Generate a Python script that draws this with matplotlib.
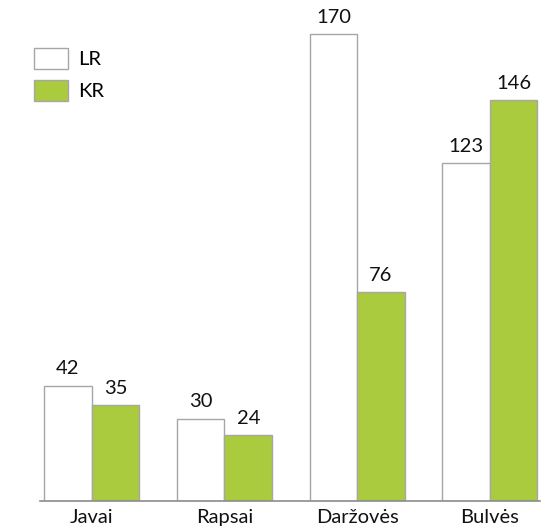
import numpy as np
import matplotlib.pyplot as plt

categories = ['Javai', 'Rapsai', 'Daržovės', 'Bulvės']
lr_values = [42, 30, 170, 123]
kr_values = [35, 24, 76, 146]

plt.rcParams['font.family'] = ['Lato', 'DejaVu Sans']

fig = plt.figure(figsize=(5.51, 5.32), dpi=100)
ax = fig.add_axes([40 / 551, 31 / 532, 500 / 551, 494 / 532])

x = np.arange(len(categories))
w = 0.358
edge = '#a6a6a6'
green = '#a9cb3d'
fs = 14.5

b1 = ax.bar(x - w / 2, lr_values, w, color='white', edgecolor=edge, linewidth=1, label='LR')
b2 = ax.bar(x + w / 2, kr_values, w, color=green, edgecolor=edge, linewidth=1, label='KR')

for bars, vals in ((b1, lr_values), (b2, kr_values)):
    for rect, v in zip(bars, vals):
        ax.annotate(str(v), (rect.get_x() + rect.get_width() / 2, rect.get_height()),
                    xytext=(0, 6), textcoords='offset points',
                    ha='center', va='bottom', fontsize=fs, color='#111111')

ax.set_xlim(-0.39, 3.377)
ax.set_ylim(0, 180)
ax.set_xticks(x)
ax.set_xticklabels(categories, fontsize=fs, color='#111111')
ax.tick_params(axis='x', length=0, pad=6)
ax.set_yticks([])
for s in ('top', 'right', 'left'):
    ax.spines[s].set_visible(False)
ax.spines['bottom'].set_color('#8c8c8c')
ax.spines['bottom'].set_linewidth(1.2)

ax.legend(loc='upper left', bbox_to_anchor=(16 / 551, 1 - 30 / 532),
          bbox_transform=fig.transFigure, frameon=False, fontsize=fs,
          handlelength=1.7, handleheight=1.22, labelspacing=0.55, handletextpad=0.5)

fig.savefig('out.png', dpi=100)
